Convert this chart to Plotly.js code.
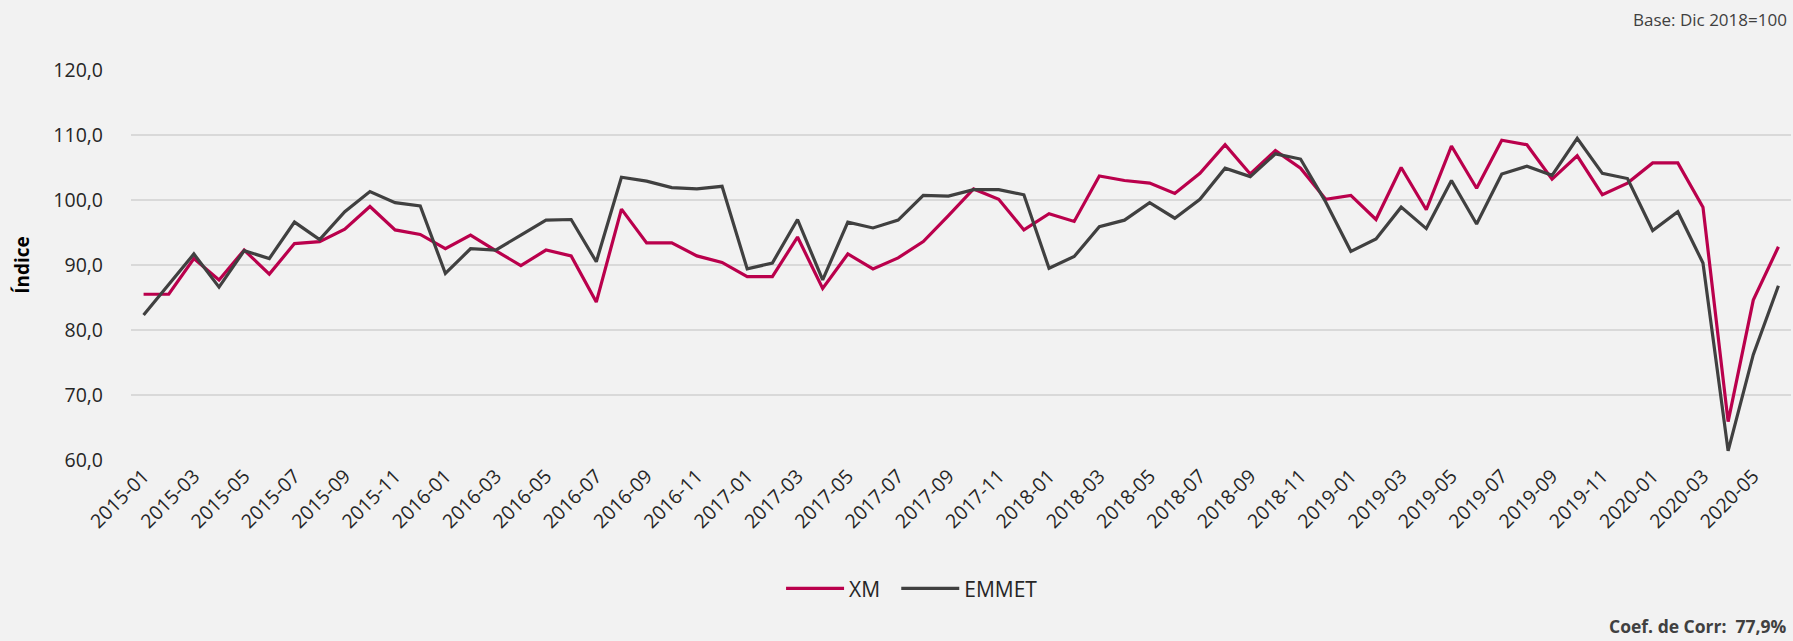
<!DOCTYPE html>
<html>
<head>
<meta charset="utf-8">
<script src="https://cdn.plot.ly/plotly-3.0.1.min.js"></script>
<style>
  html, body { margin: 0; padding: 0; background: #f2f2f2; }
  #chart { width: 1793px; height: 641px; }
</style>
</head>
<body>
<div id="chart"></div>
<script>
const months = [
  '2015-01','2015-02','2015-03','2015-04','2015-05','2015-06','2015-07','2015-08','2015-09','2015-10','2015-11','2015-12',
  '2016-01','2016-02','2016-03','2016-04','2016-05','2016-06','2016-07','2016-08','2016-09','2016-10','2016-11','2016-12',
  '2017-01','2017-02','2017-03','2017-04','2017-05','2017-06','2017-07','2017-08','2017-09','2017-10','2017-11','2017-12',
  '2018-01','2018-02','2018-03','2018-04','2018-05','2018-06','2018-07','2018-08','2018-09','2018-10','2018-11','2018-12',
  '2019-01','2019-02','2019-03','2019-04','2019-05','2019-06','2019-07','2019-08','2019-09','2019-10','2019-11','2019-12',
  '2020-01','2020-02','2020-03','2020-04','2020-05','2020-06'
];

const xm = [
  85.5, 85.5, 91.0, 87.7, 92.3, 88.6, 93.3, 93.6, 95.5, 99.0, 95.4, 94.7,
  92.5, 94.6, 92.2, 89.9, 92.3, 91.4, 84.3, 98.6, 93.4, 93.4, 91.4, 90.4,
  88.2, 88.2, 94.3, 86.4, 91.7, 89.4, 91.1, 93.6, 97.6, 101.7, 100.1, 95.4,
  97.9, 96.7, 103.7, 103.0, 102.6, 101.0, 104.1, 108.5, 104.0, 107.6, 104.9, 100.1,
  100.7, 97.0, 105.0, 98.5, 108.3, 101.8, 109.2, 108.5, 103.2, 106.8, 100.8, 102.6,
  105.7, 105.7, 98.9, 65.9, 84.6, 92.8
];

const emmet = [
  82.3, 87.0, 91.7, 86.6, 92.2, 91.0, 96.6, 93.9, 98.2, 101.3, 99.6, 99.1,
  88.7, 92.5, 92.3, 94.6, 96.9, 97.0, 90.5, 103.5, 102.9, 101.9, 101.7, 102.1,
  89.4, 90.3, 97.0, 87.7, 96.6, 95.7, 96.9, 100.7, 100.6, 101.6, 101.6, 100.8,
  89.5, 91.3, 95.9, 96.9, 99.6, 97.2, 100.1, 104.9, 103.6, 107.1, 106.3, 99.7,
  92.1, 94.0, 98.9, 95.6, 103.0, 96.3, 104.0, 105.2, 103.8, 109.5, 104.1, 103.3,
  95.3, 98.2, 90.3, 61.4, 76.2, 86.8
];

const seriesNames = ['XM', 'EMMET'];
const yTitle = 'Índice';
const baseNote = 'Base: Dic 2018=100';
const corrNote = 'Coef. de Corr:  77,9%';

const FONT = '"Open Sans", "Noto Sans", "DejaVu Sans", sans-serif';

const traces = [
  { x: months, y: xm, name: seriesNames[0], type: 'scatter', mode: 'lines',
    line: { color: '#BA004C', width: 3.2 }, legend: 'legend' },
  { x: months, y: emmet, name: seriesNames[1], type: 'scatter', mode: 'lines',
    line: { color: '#404040', width: 3.2 }, legend: 'legend2' }
];

const legendStyle = {
  orientation: 'h', xanchor: 'left', y: -0.33, yanchor: 'middle',
  font: { family: FONT, size: 21, color: '#262626' },
  bgcolor: 'rgba(0,0,0,0)', itemwidth: 58
};

const layout = {
  width: 1793, height: 641,
  paper_bgcolor: '#f2f2f2', plot_bgcolor: '#f2f2f2',
  separators: ',.',
  font: { family: FONT, size: 19, color: '#262626' },
  margin: { l: 131, r: 2, t: 70, b: 181, pad: 0 },
  showlegend: true,
  legend: Object.assign({}, legendStyle, { x: 0.3916 }),
  legend2: Object.assign({}, legendStyle, { x: 0.4610 }),
  xaxis: {
    type: 'category', categoryorder: 'array', categoryarray: months,
    range: [-0.5, months.length - 0.5],
    tickmode: 'linear', tick0: 0, dtick: 2,
    tickangle: -45, showgrid: false, zeroline: false, showline: false,
    ticks: '', tickfont: { family: FONT, size: 19.5, color: '#262626' },
    automargin: false
  },
  yaxis: {
    range: [60, 120], dtick: 10, tick0: 60, tickformat: '.1f',
    showgrid: true, gridcolor: '#d9d9d9', gridwidth: 1.5,
    zeroline: false, showline: false, ticks: '',
    ticklabelstandoff: 27,
    tickfont: { family: FONT, size: 19.5, color: '#262626' },
    title: { text: '<b>' + yTitle + '</b>', font: { family: FONT, size: 19, color: '#000000' }, standoff: 18 },
    automargin: false
  },
  annotations: [
    { text: baseNote, xref: 'paper', yref: 'paper', x: 1, y: 1, xanchor: 'right', yanchor: 'middle',
      yshift: 51, xshift: -2, showarrow: false, font: { family: FONT, size: 17, color: '#404040' } },
    { text: '<b>' + corrNote + '</b>', xref: 'paper', yref: 'paper', x: 1, y: 0, xanchor: 'right', yanchor: 'middle',
      yshift: -166, xshift: -2, showarrow: false, font: { family: FONT, size: 17.5, color: '#404040' } }
  ]
};

Plotly.newPlot('chart', traces, layout, { staticPlot: true, displayModeBar: false });
</script>
</body>
</html>
